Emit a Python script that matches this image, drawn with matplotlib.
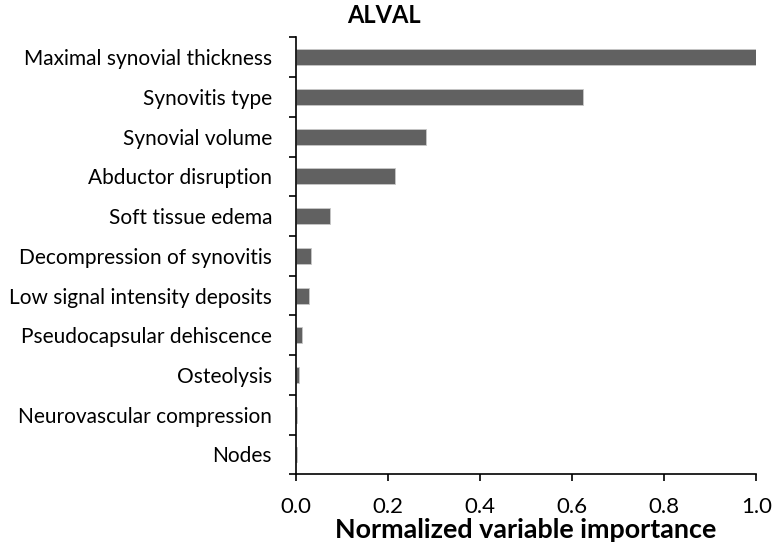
import numpy as np
import matplotlib.pyplot as plt

# variable importance (top to bottom)
variables = ['Maximal synovial thickness', 'Synovitis type', 'Synovial volume',
             'Abductor disruption', 'Soft tissue edema', 'Decompression of synovitis',
             'Low signal intensity deposits', 'Pseudocapsular dehiscence', 'Osteolysis',
             'Neurovascular compression', 'Nodes']
importance = [1.0, 0.624, 0.283, 0.216, 0.074, 0.033, 0.029, 0.014, 0.0065, 0.0035, 0.003]
xticks = [0.0, 0.2, 0.4, 0.6, 0.8, 1.0]

plt.rcParams['font.family'] = ['Lato', 'DejaVu Sans']

fig = plt.figure(figsize=(7.73, 5.49), dpi=100)
ax = fig.add_axes([0.3825, 0.136, 0.596, 0.796])

ypos = np.arange(len(variables))[::-1]
ax.barh(ypos, importance, height=0.4, color='#616161', edgecolor='#c8c8c8', linewidth=0.6)

ax.set_xlim(0, 1.0)
ax.set_ylim(-0.5, len(variables) - 0.5)
ax.set_xticks(xticks)
ax.set_xticklabels([f'{t:.1f}' for t in xticks], fontsize=16)
ax.set_yticks(ypos)
ax.set_yticklabels(variables, fontsize=15)
ax.tick_params(axis='y', length=0, pad=17)
ax.set_yticks(np.arange(-0.5, len(variables)), minor=True)
ax.tick_params(axis='y', which='minor', length=5, width=1.2, direction='out')
ax.tick_params(axis='x', length=5, width=1.2, direction='out', pad=11)

for side in ['top', 'right']:
    ax.spines[side].set_visible(False)
for side in ['left', 'bottom']:
    ax.spines[side].set_linewidth(1.2)

ax.set_xlabel('Normalized variable importance', fontsize=19.4, fontweight='bold', labelpad=1)
fig.text(0.497, 0.972, 'ALVAL', fontsize=17, fontweight='bold', ha='center', va='center')

plt.savefig('out.png', dpi=100)
